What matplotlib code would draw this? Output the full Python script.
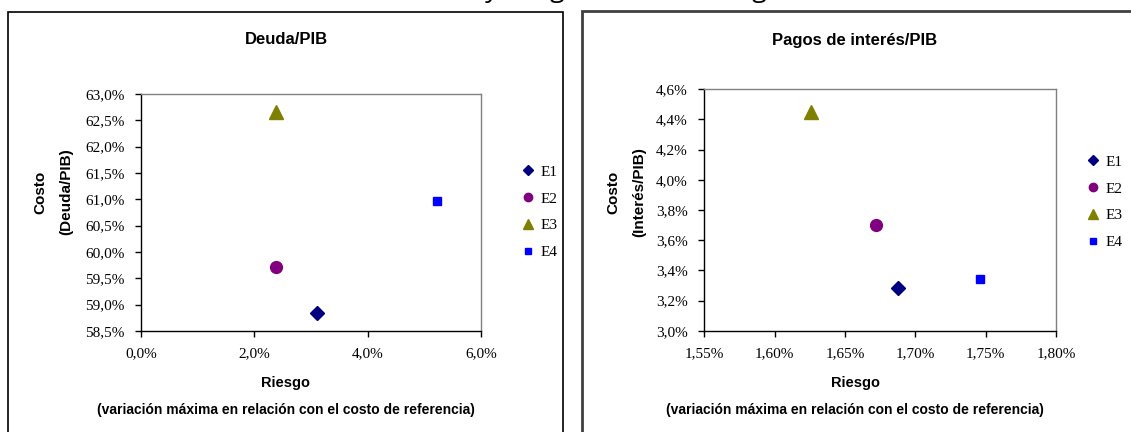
import numpy as np
import matplotlib.pyplot as plt
from matplotlib.patches import Rectangle
from matplotlib.ticker import FuncFormatter, MultipleLocator

W, H = 1131, 432

# strategies and (riesgo, costo) in percent
estrategias = ['E1', 'E2', 'E3', 'E4']
marcadores = ['D', 'o', '^', 's']
colores = ['#000080', '#800080', '#808000', '#0000FF']
tam_marcador = [7.5, 8.5, 9.5, 6.0]
tam_leyenda = [5.5, 6.0, 6.5, 5.0]

riesgo_deuda = [3.10, 2.38, 2.39, 5.23]
costo_deuda = [58.84, 59.72, 62.65, 60.96]

riesgo_interes = [1.6875, 1.672, 1.6256, 1.746]
costo_interes = [3.283, 3.703, 4.448, 3.341]

serif = 'Liberation Serif'
sans = 'Liberation Sans'


def px(x0, y0, w, h):
    # pixel box (top-left origin) -> figure fraction rect
    return [x0 / W, 1 - (y0 + h) / H, w / W, h / H]


def pct_fmt(dec):
    return FuncFormatter(lambda v, p: ('{:.%df}%%' % dec).format(v).replace('.', ','))


fig = plt.figure(figsize=(W / 100, H / 100), dpi=100)

# heading running off the top edge, only descenders remain
fig.text(408 / W, 1 + 3 / H, 'Costo y riesgo de las estrategias', fontsize=19,
         family='Open Sans', ha='left', va='baseline', color='black')

# panel frames
fig.add_artist(Rectangle((8 / W, -0.05), 555 / W, (H - 12) / H + 0.05,
                         transform=fig.transFigure, fill=False,
                         edgecolor='black', lw=1.2))
fig.add_artist(Rectangle((582 / W, -0.05), 600 / W, (H - 11) / H + 0.05,
                         transform=fig.transFigure, fill=False,
                         edgecolor='#404040', lw=2.0))


def panel(rect, xs, ys, titulo, ylab, xlim, ylim, xstep, ystep, xdec, ydec,
          tx, ylx, leg_x, leg_y):
    ax = fig.add_axes(px(*rect))
    for i in range(len(estrategias)):
        ax.plot(xs[i], ys[i], linestyle='none', marker=marcadores[i],
                color=colores[i], markersize=tam_marcador[i],
                label=estrategias[i], clip_on=False)
    ax.set_xlim(*xlim)
    ax.set_ylim(*ylim)
    ax.xaxis.set_major_locator(MultipleLocator(xstep))
    ax.yaxis.set_major_locator(MultipleLocator(ystep))
    ax.xaxis.set_major_formatter(pct_fmt(xdec))
    ax.yaxis.set_major_formatter(pct_fmt(ydec))
    for s in ['top', 'right']:
        ax.spines[s].set_color('#808080')
    for s in ['left', 'bottom']:
        ax.spines[s].set_color('black')
    for s in ax.spines.values():
        s.set_linewidth(1.0)
    ax.tick_params(direction='out', length=4, width=1, pad=8, labelsize=11)
    for lab in ax.get_xticklabels() + ax.get_yticklabels():
        lab.set_family(serif)

    fig.text(tx / W, 1 - 40 / H, titulo, ha='center', va='center',
             fontsize=12, fontweight='bold', family=sans)
    fig.text(ylx / W, 1 - 192 / H, 'Costo\n' + ylab, ha='center', va='center',
             rotation=90, fontsize=11, fontweight='bold', family=sans,
             linespacing=2.1)
    fig.text(tx / W, 1 - 383 / H, 'Riesgo', ha='center', va='center',
             fontsize=10.5, fontweight='bold', family=sans)
    fig.text(tx / W, 1 - 410 / H,
             '(variación máxima en relación con el costo de referencia)',
             ha='center', va='center', fontsize=10, fontweight='bold',
             family=sans)

    leg = ax.legend(loc='center left', bbox_to_anchor=(leg_x / W, 1 - leg_y / H),
                    bbox_transform=fig.transFigure, frameon=False,
                    handlelength=0.6, handletextpad=0.5, labelspacing=0.85,
                    borderpad=0, prop={'family': serif, 'size': 11})
    for h, ms in zip(leg.legend_handles, tam_leyenda):
        h.set_markersize(ms)
    return ax


panel((141, 94, 340, 237), riesgo_deuda, costo_deuda, 'Deuda/PIB',
      '(Deuda/PIB)', (0, 6), (58.5, 63.0), 2, 0.5, 1, 1,
      286, 53, 516, 212)

panel((704.3, 89.3, 351.7, 241.4), riesgo_interes, costo_interes,
      'Pagos de interés/PIB', '(Interés/PIB)', (1.55, 1.80), (3.0, 4.6),
      0.05, 0.2, 2, 1, 855, 626, 1081, 202)

fig.savefig('out.png', dpi=100)
